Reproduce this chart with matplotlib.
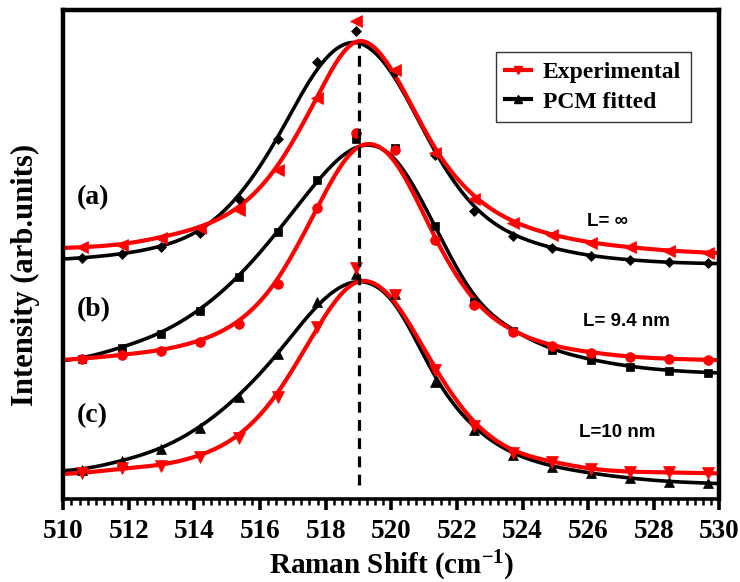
import numpy as np
import matplotlib
matplotlib.use("Agg")
import matplotlib.pyplot as plt
from matplotlib.ticker import MultipleLocator

# ---------------- data ----------------
raman_shift = [509.39, 510.58, 511.78, 512.97, 514.16, 515.36, 516.55, 517.74, 518.93,
               520.12, 521.32, 522.51, 523.70, 524.89, 526.09, 527.28, 528.47, 529.66, 530.85]

# (a) L = infinity
exp_a = [51.2, 51.5, 52.0, 53.5, 55.4, 59.1, 67.3, 82.1, 97.8,
         87.7, 70.7, 61.4, 56.5, 54.0, 52.4, 51.5, 50.8, 50.4, 50.1]
fit_a = [48.9, 49.3, 50.1, 51.5, 54.4, 61.4, 73.6, 89.4, 95.8,
         87.4, 70.4, 59.0, 53.8, 51.3, 49.7, 48.9, 48.4, 48.2, 48.1]
# (b) L = 9.4 nm
exp_b = [28.3, 28.7, 29.5, 30.4, 32.2, 35.8, 44.0, 59.6, 74.8,
         71.3, 52.9, 39.7, 34.1, 31.3, 30.0, 29.1, 28.7, 28.5, 28.3]
fit_b = [27.9, 28.7, 31.0, 33.8, 38.5, 45.4, 54.7, 65.3, 73.6,
         71.7, 55.9, 40.3, 34.4, 30.5, 28.5, 27.1, 26.3, 25.9, 25.6]
# (c) L = 10 nm
exp_c = [5.0, 5.3, 6.3, 6.9, 8.7, 12.5, 21.0, 35.3, 47.2,
         41.8, 26.4, 15.0, 9.5, 7.7, 6.1, 5.6, 5.5, 5.3, 5.2]
fit_c = [5.6, 6.0, 7.8, 10.2, 14.5, 21.0, 29.6, 40.3, 46.1,
         42.0, 24.0, 14.2, 9.1, 6.7, 5.3, 4.3, 3.6, 3.3, 3.0]

peak_position = 519.0
dash_span = [2.9, 93.3]

panel_labels = ["(a)", "(b)", "(c)"]
panel_label_y = [61.6, 38.7, 17.2]
size_labels = ["L= \u221e", "L= 9.4 nm", "L=10 nm"]
size_label_x = [525.96, 525.84, 525.72]
size_label_y = [56.7, 36.4, 13.7]

legend_labels = ["Experimental", "PCM fitted"]
x_ticks = [510, 512, 514, 516, 518, 520, 522, 524, 526, 528, 530]


def bspline(xs, ys, n=30):
    """Uniform cubic B-spline using the data points as control points
    (end points repeated so that the curve starts/ends on them)."""
    P = np.column_stack([xs, ys]).astype(float)
    P = np.vstack([P[0], P[0], P, P[-1], P[-1]])
    t = np.linspace(0.0, 1.0, n, endpoint=False)[:, None]
    b0 = (1 - t) ** 3 / 6.0
    b1 = (3 * t ** 3 - 6 * t ** 2 + 4) / 6.0
    b2 = (-3 * t ** 3 + 3 * t ** 2 + 3 * t + 1) / 6.0
    b3 = t ** 3 / 6.0
    segs = []
    for i in range(len(P) - 3):
        segs.append(b0 * P[i] + b1 * P[i + 1] + b2 * P[i + 2] + b3 * P[i + 3])
    segs.append(P[-1][None, :])
    c = np.vstack(segs)
    return c[:, 0], c[:, 1]


SERIF = ["Liberation Serif", "DejaVu Serif"]
plt.rcParams["font.family"] = SERIF
plt.rcParams["font.weight"] = "bold"
plt.rcParams["mathtext.fontset"] = "custom"
plt.rcParams["mathtext.rm"] = "Liberation Serif:bold"
plt.rcParams["mathtext.bf"] = "Liberation Serif:bold"
plt.rcParams["mathtext.it"] = "Liberation Serif:bold"

fig = plt.figure(figsize=(7.4, 5.82), dpi=100)
ax = fig.add_axes([0.0855, 0.1421, 0.8866, 0.8407])

RED = "#ff0000"
BLK = "#000000"

series = [
    (fit_a, BLK, "D", 5.5, 2.6),
    (exp_a, RED, "<", 8, 3.0),
    (fit_b, BLK, "s", 6, 2.6),
    (exp_b, RED, "o", 7, 3.0),
    (fit_c, BLK, "^", 7.5, 2.6),
    (exp_c, RED, "v", 8, 3.0),
]

for ys, col, mk, ms, lw in series:
    sx, sy = bspline(raman_shift, ys)
    ax.plot(sx, sy, color=col, lw=lw, solid_capstyle="round", zorder=2)
    ax.plot(raman_shift, ys, ls="none", marker=mk, ms=ms, color=col,
            mec=col, mew=0.5, zorder=3)

ax.vlines(peak_position, dash_span[0], dash_span[1], colors=BLK,
          linewidth=2.3, linestyles=(0, (3.4, 2.3)), zorder=4)

for lab, yy in zip(panel_labels, panel_label_y):
    ax.text(510.42, yy, lab, fontsize=20, fontweight="bold", ha="left", va="center",
            family=SERIF)

for lab, xx, yy in zip(size_labels, size_label_x, size_label_y):
    ax.text(xx, yy, lab, fontsize=13.5, fontweight="bold", ha="left", va="center",
            family=["Liberation Sans", "DejaVu Sans"])

ax.set_xlim(510, 530)
ax.set_ylim(0, 100)
ax.set_xticks(x_ticks)
ax.set_xticklabels([str(v) for v in x_ticks], family=SERIF, fontweight="bold",
                   fontsize=19.5)
ax.xaxis.set_minor_locator(MultipleLocator(0.25))
ax.set_yticks([])
ax.tick_params(axis="x", which="major", direction="out", length=8, width=2.6, pad=6)
ax.tick_params(axis="x", which="minor", direction="out", length=4, width=1.8)

for side in ["left", "top", "right"]:
    ax.spines[side].set_linewidth(3.2)
ax.spines["bottom"].set_linewidth(2.6)

ax.set_xlabel(r"Raman Shift (cm$^{\mathbf{-1}}$)", fontsize=21, fontweight="bold",
              labelpad=3.5, family=SERIF)
ax.set_ylabel("Intensity (arb.units)", fontsize=22, fontweight="bold", family=SERIF)
ax.yaxis.set_label_coords(-0.035, 0.458)

h_exp, = ax.plot([], [], color=RED, lw=3.0, marker="v", ms=6)
h_fit, = ax.plot([], [], color=BLK, lw=3.0, marker="^", ms=6)
leg = fig.legend([h_exp, h_fit], legend_labels, loc="upper left",
                 bbox_to_anchor=(0.670, 0.911), borderaxespad=0.0, frameon=True,
                 fancybox=False, framealpha=1, edgecolor="#333333",
                 handlelength=1.1, handletextpad=0.5, borderpad=0.4,
                 labelspacing=0.35, prop={"weight": "bold", "size": 17,
                                          "family": SERIF})
leg.get_frame().set_linewidth(1.0)

fig.savefig("out.png", dpi=100)
